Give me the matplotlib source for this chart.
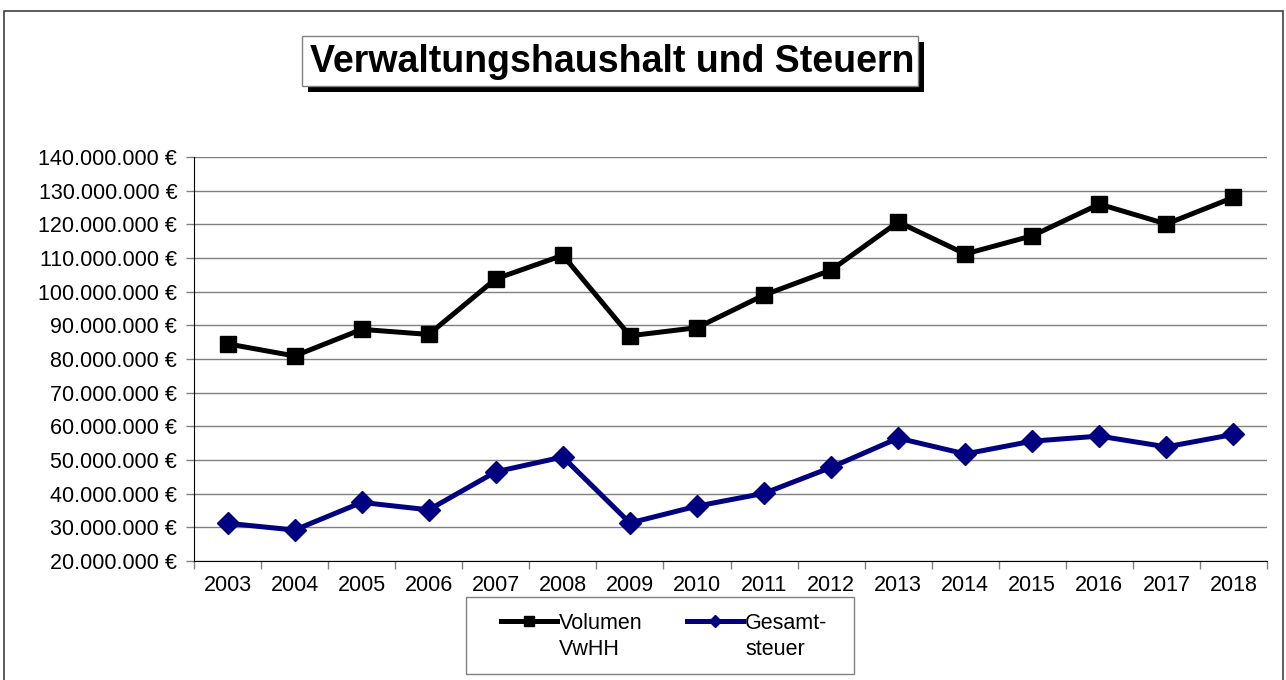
import matplotlib.pyplot as plt
from matplotlib.lines import Line2D
from matplotlib.patches import Rectangle
from matplotlib.ticker import FuncFormatter, MultipleLocator

plt.rcParams["font.family"] = ["Liberation Sans", "DejaVu Sans"]

years = [str(y) for y in range(2003, 2019)]
volumen_vwhh = [84.5, 80.9, 88.8, 87.3, 103.8, 110.8, 86.9, 89.3,
                99.0, 106.4, 120.7, 111.2, 116.6, 126.0, 120.1, 128.0]
gesamtsteuer = [31.2, 29.2, 37.4, 35.2, 46.5, 50.9, 31.3, 36.3,
                40.1, 47.8, 56.5, 51.8, 55.6, 57.1, 53.9, 57.6]
label_vol = ["Volumen", "VwHH"]
label_steuer = ["Gesamt-", "steuer"]
title = "Verwaltungshaushalt und Steuern"

W, H = 1286, 680
fig = plt.figure(figsize=(W / 100, H / 100), dpi=100)
ax = fig.add_axes([194 / W, 1 - 561 / H, (1267 - 194) / W, (561 - 157) / H])

x = list(range(len(years)))
vals_vol = [v * 1e6 for v in volumen_vwhh]
vals_st = [v * 1e6 for v in gesamtsteuer]

line_vol, = ax.plot(x, vals_vol, color="black", lw=3.6, marker="s", ms=11.5,
                    zorder=3)
line_st, = ax.plot(x, vals_st, color="#000080", lw=3.6, marker="D", ms=11,
                   zorder=3)

ax.set_xlim(-0.5, len(years) - 0.5)
ax.set_ylim(20e6, 140e6)
ax.yaxis.set_major_locator(MultipleLocator(10e6))
ax.yaxis.set_major_formatter(FuncFormatter(
    lambda v, p: f"{int(round(v)):,} €".replace(",", ".")))
ax.set_xticks(x)
ax.set_xticklabels(years)
ax.set_xticks([i - 0.5 for i in range(len(years) + 1)], minor=True)
ax.tick_params(axis="x", which="major", length=0, pad=10, labelsize=15.5)
ax.tick_params(axis="x", which="minor", length=6, width=1, color="#808080")
ax.tick_params(axis="y", length=6, width=1, color="#808080", labelsize=15.5, pad=6)

ax.grid(axis="y", color="#808080", lw=1)
ax.set_axisbelow(True)
for side in ("top", "right"):
    ax.spines[side].set_visible(False)
ax.spines["left"].set_color("black")
ax.spines["bottom"].set_color("black")

# title box with shadow
tx0, ty0, tx1, ty1 = 302, 36, 918, 86
fig.patches.append(Rectangle(((tx0 + 6) / W, 1 - (ty1 + 6) / H), (tx1 - tx0) / W,
                             (ty1 - ty0) / H, transform=fig.transFigure,
                             facecolor="black", edgecolor="none", zorder=1))
fig.patches.append(Rectangle((tx0 / W, 1 - ty1 / H), (tx1 - tx0) / W,
                             (ty1 - ty0) / H, transform=fig.transFigure,
                             facecolor="white", edgecolor="#808080", lw=1, zorder=2))
fig.text((tx0 + tx1) / 2 / W + 2 / W, 1 - (ty0 + ty1 + 3) / 2 / H, title, ha="center",
         va="center", fontsize=27, fontweight="bold", zorder=3)

# legend: two-line labels, marker on the first line only
blank = Line2D([], [], color="none")
handles = [line_vol, blank, line_st, blank]
labels = [label_vol[0], label_vol[1], label_steuer[0], label_steuer[1]]
leg = fig.legend(handles, labels, loc="upper left",
                 bbox_to_anchor=(501 / W, 1 - 613 / H), ncol=2, frameon=False,
                 fontsize=15.5, handlelength=2.6, handletextpad=0.1,
                 columnspacing=2.05, borderpad=0, borderaxespad=0,
                 labelspacing=0.25, markerscale=0.6)
fig.patches.append(Rectangle((466 / W, 1 - 674 / H), (854 - 466) / W, (674 - 597) / H,
                             transform=fig.transFigure, facecolor="white",
                             edgecolor="#808080", lw=1, zorder=0))

# outer border of the chart area
fig.patches.append(Rectangle((4 / W, -0.05), (1283 - 4) / W, 1 - 11 / H + 0.05,
                             transform=fig.transFigure, facecolor="none",
                             edgecolor="#404040", lw=1.2))

fig.savefig("out.png", dpi=100)
